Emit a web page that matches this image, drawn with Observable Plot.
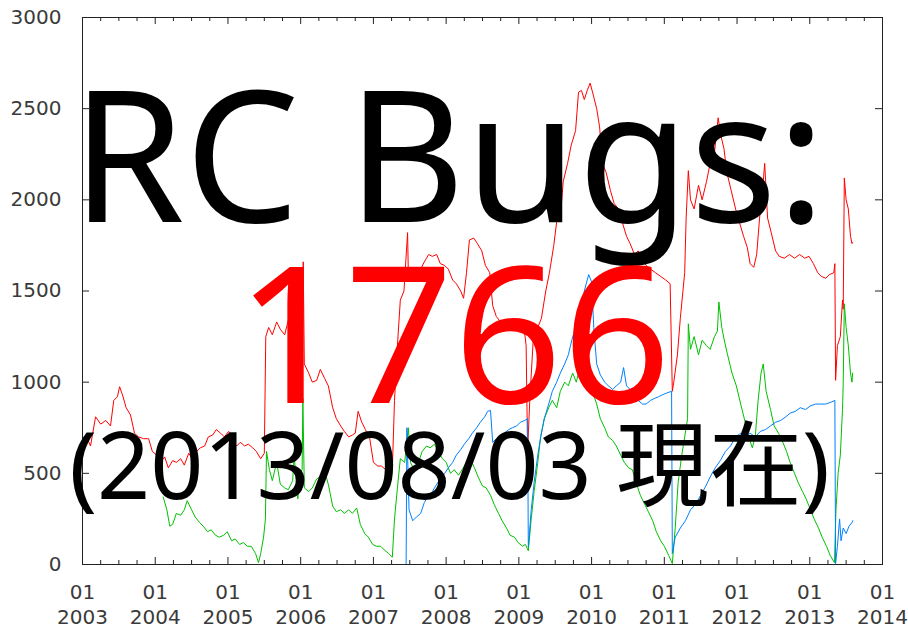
<!DOCTYPE html>
<html><head><meta charset="utf-8">
<script src="https://cdn.jsdelivr.net/npm/d3@7"></script>
<script src="https://cdn.jsdelivr.net/npm/@observablehq/plot@0.6"></script>
<style>body{margin:0;background:#fff}</style>
</head><body><div id="chart"></div>
<script>
// [decimal year, count]
const red = [[2003.00,630],[2003.055,700],[2003.11,650],[2003.18,810],[2003.25,770],[2003.32,790],[2003.385,760],[2003.43,900],[2003.48,920],[2003.51,975],[2003.55,930],[2003.60,860],[2003.66,820],[2003.715,720],[2003.77,700],[2003.84,690],[2003.91,690],[2003.96,620],[2004.02,600],[2004.07,560],[2004.13,590],[2004.18,530],[2004.24,570],[2004.29,560],[2004.35,580],[2004.40,545],[2004.46,610],[2004.51,580],[2004.57,620],[2004.62,640],[2004.68,650],[2004.73,700],[2004.79,710],[2004.84,740],[2004.90,720],[2004.95,700],[2005.01,730],[2005.06,680],[2005.12,650],[2005.17,670],[2005.23,650],[2005.28,660],[2005.34,640],[2005.39,620],[2005.45,580],[2005.50,610],[2005.52,1250],[2005.56,1300],[2005.61,1260],[2005.67,1330],[2005.72,1290],[2005.78,1260],[2005.83,1340],[2005.89,1400],[2005.94,1360],[2006.00,1250],[2006.02,1100],[2006.035,1660],[2006.05,1100],[2006.11,1050],[2006.16,1000],[2006.22,1010],[2006.27,1070],[2006.33,1020],[2006.38,980],[2006.44,860],[2006.49,800],[2006.55,760],[2006.60,730],[2006.66,700],[2006.71,710],[2006.75,720],[2006.79,840],[2006.84,780],[2006.89,740],[2006.95,690],[2007.00,560],[2007.06,540],[2007.11,540],[2007.17,520],[2007.22,510],[2007.26,520],[2007.29,900],[2007.33,1200],[2007.37,1450],[2007.42,1500],[2007.47,1820],[2007.48,1600],[2007.54,1620],[2007.59,1590],[2007.65,1620],[2007.70,1660],[2007.76,1700],[2007.81,1690],[2007.87,1700],[2007.92,1650],[2007.98,1640],[2008.03,1620],[2008.09,1560],[2008.14,1540],[2008.20,1500],[2008.24,1460],[2008.28,1600],[2008.32,1780],[2008.38,1790],[2008.43,1760],[2008.49,1720],[2008.54,1640],[2008.60,1600],[2008.64,1420],[2008.69,1360],[2008.75,1330],[2008.82,1320],[2008.88,1300],[2008.95,1320],[2009.02,1300],[2009.08,1270],[2009.10,1200],[2009.12,620],[2009.15,900],[2009.20,1250],[2009.26,1300],[2009.31,1350],[2009.37,1500],[2009.42,1600],[2009.48,1750],[2009.52,1880],[2009.57,1900],[2009.61,2100],[2009.67,2200],[2009.72,2300],[2009.78,2380],[2009.82,2590],[2009.86,2600],[2009.90,2550],[2009.94,2600],[2009.98,2640],[2010.02,2580],[2010.07,2500],[2010.11,2400],[2010.15,2200],[2010.20,2150],[2010.26,2050],[2010.31,1980],[2010.37,1950],[2010.42,1880],[2010.48,1800],[2010.53,1760],[2010.59,1700],[2010.64,1720],[2010.70,1680],[2010.75,1640],[2010.81,1620],[2010.88,1600],[2010.95,1580],[2011.02,1560],[2011.08,1540],[2011.11,950],[2011.13,1000],[2011.18,1150],[2011.22,1350],[2011.28,1600],[2011.30,1900],[2011.33,2160],[2011.36,2000],[2011.41,1950],[2011.47,2080],[2011.52,2000],[2011.58,2100],[2011.63,2200],[2011.69,2260],[2011.74,2450],[2011.78,2350],[2011.82,2280],[2011.86,2150],[2011.92,2050],[2011.98,1950],[2012.03,1880],[2012.09,1800],[2012.14,1740],[2012.18,1650],[2012.23,1630],[2012.27,1700],[2012.31,1900],[2012.35,2050],[2012.38,2200],[2012.42,1900],[2012.47,1820],[2012.53,1720],[2012.58,1690],[2012.65,1680],[2012.72,1700],[2012.79,1680],[2012.86,1700],[2012.93,1680],[2012.99,1690],[2013.05,1650],[2013.11,1600],[2013.16,1580],[2013.22,1570],[2013.27,1590],[2013.33,1600],[2013.345,1650],[2013.355,1010],[2013.38,1200],[2013.42,1250],[2013.45,1450],[2013.46,1400],[2013.475,2120],[2013.50,2000],[2013.53,1950],[2013.56,1800],[2013.58,1760],[2013.59,1766]];
const green = [[2004.11,370],[2004.16,300],[2004.20,210],[2004.24,220],[2004.29,280],[2004.35,270],[2004.40,300],[2004.44,350],[2004.50,300],[2004.55,260],[2004.61,230],[2004.66,210],[2004.72,180],[2004.77,190],[2004.83,160],[2004.88,150],[2004.94,160],[2004.99,180],[2005.05,130],[2005.10,140],[2005.16,110],[2005.21,120],[2005.27,100],[2005.32,100],[2005.38,60],[2005.42,10],[2005.45,60],[2005.49,150],[2005.515,250],[2005.53,620],[2005.57,520],[2005.61,460],[2005.67,560],[2005.72,440],[2005.78,420],[2005.83,410],[2005.89,460],[2005.91,600],[2005.96,360],[2006.00,500],[2006.02,520],[2006.03,910],[2006.05,420],[2006.11,400],[2006.16,420],[2006.22,470],[2006.27,480],[2006.33,510],[2006.38,440],[2006.44,320],[2006.49,290],[2006.55,300],[2006.60,280],[2006.66,300],[2006.71,280],[2006.77,310],[2006.82,220],[2006.88,170],[2006.93,150],[2006.99,110],[2007.04,100],[2007.10,100],[2007.15,80],[2007.21,60],[2007.26,40],[2007.29,250],[2007.33,420],[2007.37,580],[2007.43,560],[2007.48,750],[2007.51,560],[2007.56,520],[2007.62,560],[2007.67,620],[2007.73,650],[2007.78,640],[2007.84,660],[2007.89,620],[2007.95,580],[2008.00,560],[2008.06,500],[2008.11,520],[2008.17,490],[2008.22,520],[2008.28,560],[2008.33,580],[2008.39,530],[2008.44,480],[2008.50,430],[2008.55,420],[2008.61,380],[2008.66,330],[2008.72,280],[2008.77,240],[2008.83,200],[2008.88,160],[2008.94,150],[2008.99,120],[2009.05,100],[2009.09,110],[2009.13,75],[2009.17,250],[2009.21,400],[2009.26,560],[2009.30,700],[2009.35,800],[2009.41,860],[2009.46,900],[2009.52,860],[2009.57,950],[2009.63,1000],[2009.68,980],[2009.74,1050],[2009.79,1000],[2009.85,1100],[2009.90,1050],[2009.96,1000],[2010.01,950],[2010.07,880],[2010.12,800],[2010.18,750],[2010.23,700],[2010.29,680],[2010.34,650],[2010.40,600],[2010.45,560],[2010.51,530],[2010.56,520],[2010.62,440],[2010.67,380],[2010.73,330],[2010.78,290],[2010.84,240],[2010.89,180],[2010.95,130],[2011.00,100],[2011.06,50],[2011.11,5],[2011.15,200],[2011.19,450],[2011.24,600],[2011.28,700],[2011.32,800],[2011.33,1320],[2011.36,1180],[2011.41,1250],[2011.47,1150],[2011.52,1230],[2011.58,1200],[2011.63,1180],[2011.69,1250],[2011.73,1280],[2011.75,1440],[2011.79,1300],[2011.83,1220],[2011.87,1150],[2011.93,1050],[2011.99,980],[2012.05,880],[2012.10,800],[2012.16,700],[2012.21,640],[2012.25,700],[2012.29,900],[2012.33,1050],[2012.36,1100],[2012.40,950],[2012.46,850],[2012.51,760],[2012.57,720],[2012.62,680],[2012.68,620],[2012.73,560],[2012.79,500],[2012.84,450],[2012.90,400],[2012.95,360],[2013.01,300],[2013.06,250],[2013.12,200],[2013.17,150],[2013.23,100],[2013.28,50],[2013.34,10],[2013.36,300],[2013.39,500],[2013.42,600],[2013.45,850],[2013.46,1000],[2013.475,1430],[2013.50,1300],[2013.53,1200],[2013.56,1050],[2013.58,1000],[2013.59,1050]];
const blue = [[2007.32,0],[2007.45,0],[2007.46,750],[2007.49,300],[2007.54,240],[2007.59,260],[2007.65,280],[2007.70,340],[2007.76,380],[2007.81,400],[2007.87,440],[2007.92,470],[2007.98,500],[2008.03,530],[2008.09,560],[2008.14,600],[2008.20,630],[2008.25,660],[2008.31,690],[2008.36,720],[2008.42,750],[2008.47,780],[2008.53,810],[2008.57,840],[2008.61,845],[2008.64,670],[2008.69,690],[2008.75,700],[2008.80,720],[2008.86,740],[2008.91,750],[2008.97,760],[2009.02,780],[2009.08,790],[2009.12,800],[2009.13,95],[2009.17,300],[2009.21,450],[2009.26,600],[2009.30,700],[2009.35,800],[2009.41,880],[2009.46,950],[2009.52,1000],[2009.57,1050],[2009.63,1100],[2009.68,1150],[2009.74,1250],[2009.79,1300],[2009.85,1380],[2009.90,1500],[2009.96,1590],[2010.00,1550],[2010.03,1300],[2010.07,1100],[2010.12,1040],[2010.18,1000],[2010.23,980],[2010.29,960],[2010.34,980],[2010.40,1000],[2010.44,1080],[2010.48,980],[2010.53,960],[2010.59,940],[2010.64,900],[2010.70,880],[2010.75,880],[2010.81,900],[2010.86,910],[2010.92,920],[2010.97,930],[2011.03,940],[2011.10,950],[2011.11,60],[2011.15,150],[2011.22,200],[2011.29,240],[2011.36,300],[2011.43,330],[2011.50,380],[2011.57,430],[2011.63,480],[2011.70,530],[2011.77,570],[2011.84,620],[2011.91,650],[2011.98,700],[2012.05,720],[2012.12,700],[2012.18,720],[2012.25,700],[2012.32,730],[2012.39,740],[2012.46,760],[2012.53,780],[2012.60,790],[2012.67,810],[2012.73,830],[2012.80,840],[2012.87,860],[2012.94,850],[2013.01,870],[2013.08,880],[2013.15,880],[2013.22,880],[2013.29,890],[2013.345,900],[2013.355,5],[2013.38,100],[2013.41,250],[2013.43,130],[2013.46,200],[2013.50,170],[2013.54,210],[2013.58,230],[2013.59,240]];

const years = [2003,2004,2005,2006,2007,2008,2009,2010,2011,2012,2013,2014];
const yTicks = [0,500,1000,1500,2000,2500,3000];
const titleLine = "RC Bugs:";
const countLine = "1766";
const dateLine = "(2013/08/03 現在)";

const W = 908, H = 631, mL = 82, mR = 26, mT = 17, mB = 67;
const pxY = 3000 / (H - mT - mB);       // data units per pixel (y)
const pxX = 11 / (W - mL - mR);         // years per pixel (x)
const minor = years.slice(0, -1).flatMap(y => [y + 0.25, y + 0.5, y + 0.75]);
const axisColor = "#222";
const labelFill = "#3a3a3a";
const labelFont = "'DejaVu Sans', sans-serif";
const big = {fontFamily: "'Noto Sans', 'Noto Sans CJK JP', sans-serif", frameAnchor: "top", lineAnchor: "top", text: d => d};

const chart = Plot.plot({
  width: W, height: H,
  marginLeft: mL, marginRight: mR, marginTop: mT, marginBottom: mB,
  x: {domain: [2003, 2014]},
  y: {domain: [0, 3000]},
  style: {fontFamily: labelFont, background: "white"},
  marks: [
    Plot.line(red, {x: d => d[0], y: d => d[1], stroke: "#ff0000", strokeWidth: 1}),
    Plot.line(green, {x: d => d[0], y: d => d[1], stroke: "#00c000", strokeWidth: 1}),
    Plot.line(blue, {x: d => d[0], y: d => d[1], stroke: "#0080ff", strokeWidth: 1}),
    Plot.frame({stroke: axisColor}),
    Plot.ruleX(years, {y1: 0, y2: 7 * pxY, stroke: axisColor}),
    Plot.ruleX(years, {y1: 3000, y2: 3000 - 7 * pxY, stroke: axisColor}),
    Plot.ruleX(minor, {y1: 0, y2: 4 * pxY, stroke: axisColor}),
    Plot.ruleX(minor, {y1: 3000, y2: 3000 - 4 * pxY, stroke: axisColor}),
    Plot.ruleY(yTicks, {x1: 2003, x2: 2003 + 7 * pxX, stroke: axisColor}),
    Plot.ruleY(yTicks, {x1: 2014, x2: 2014 - 7 * pxX, stroke: axisColor}),
    Plot.axisX({ticks: years, tickSize: 0, tickPadding: 17, tickFormat: d => `01\n${d}`, fontFamily: labelFont, fontSize: 20, fill: labelFill, lineHeight: 1.25, label: null}),
    Plot.axisY({ticks: yTicks, tickSize: 0, tickPadding: 21, tickFormat: d => String(d), fontFamily: labelFont, fontSize: 20, fill: labelFill, label: null}),
    Plot.text([titleLine], {...big, fontSize: 182, dx: -34, dy: 75, fill: "black"}),
    Plot.text([countLine], {...big, fontSize: 190, dx: -29, dy: 251, fill: "#ff0000"}),
    Plot.text([dateLine], {...big, fontSize: 93, dx: -33, dy: 415, fill: "black"})
  ]
});
document.getElementById("chart").appendChild(chart);
</script>
</body></html>
